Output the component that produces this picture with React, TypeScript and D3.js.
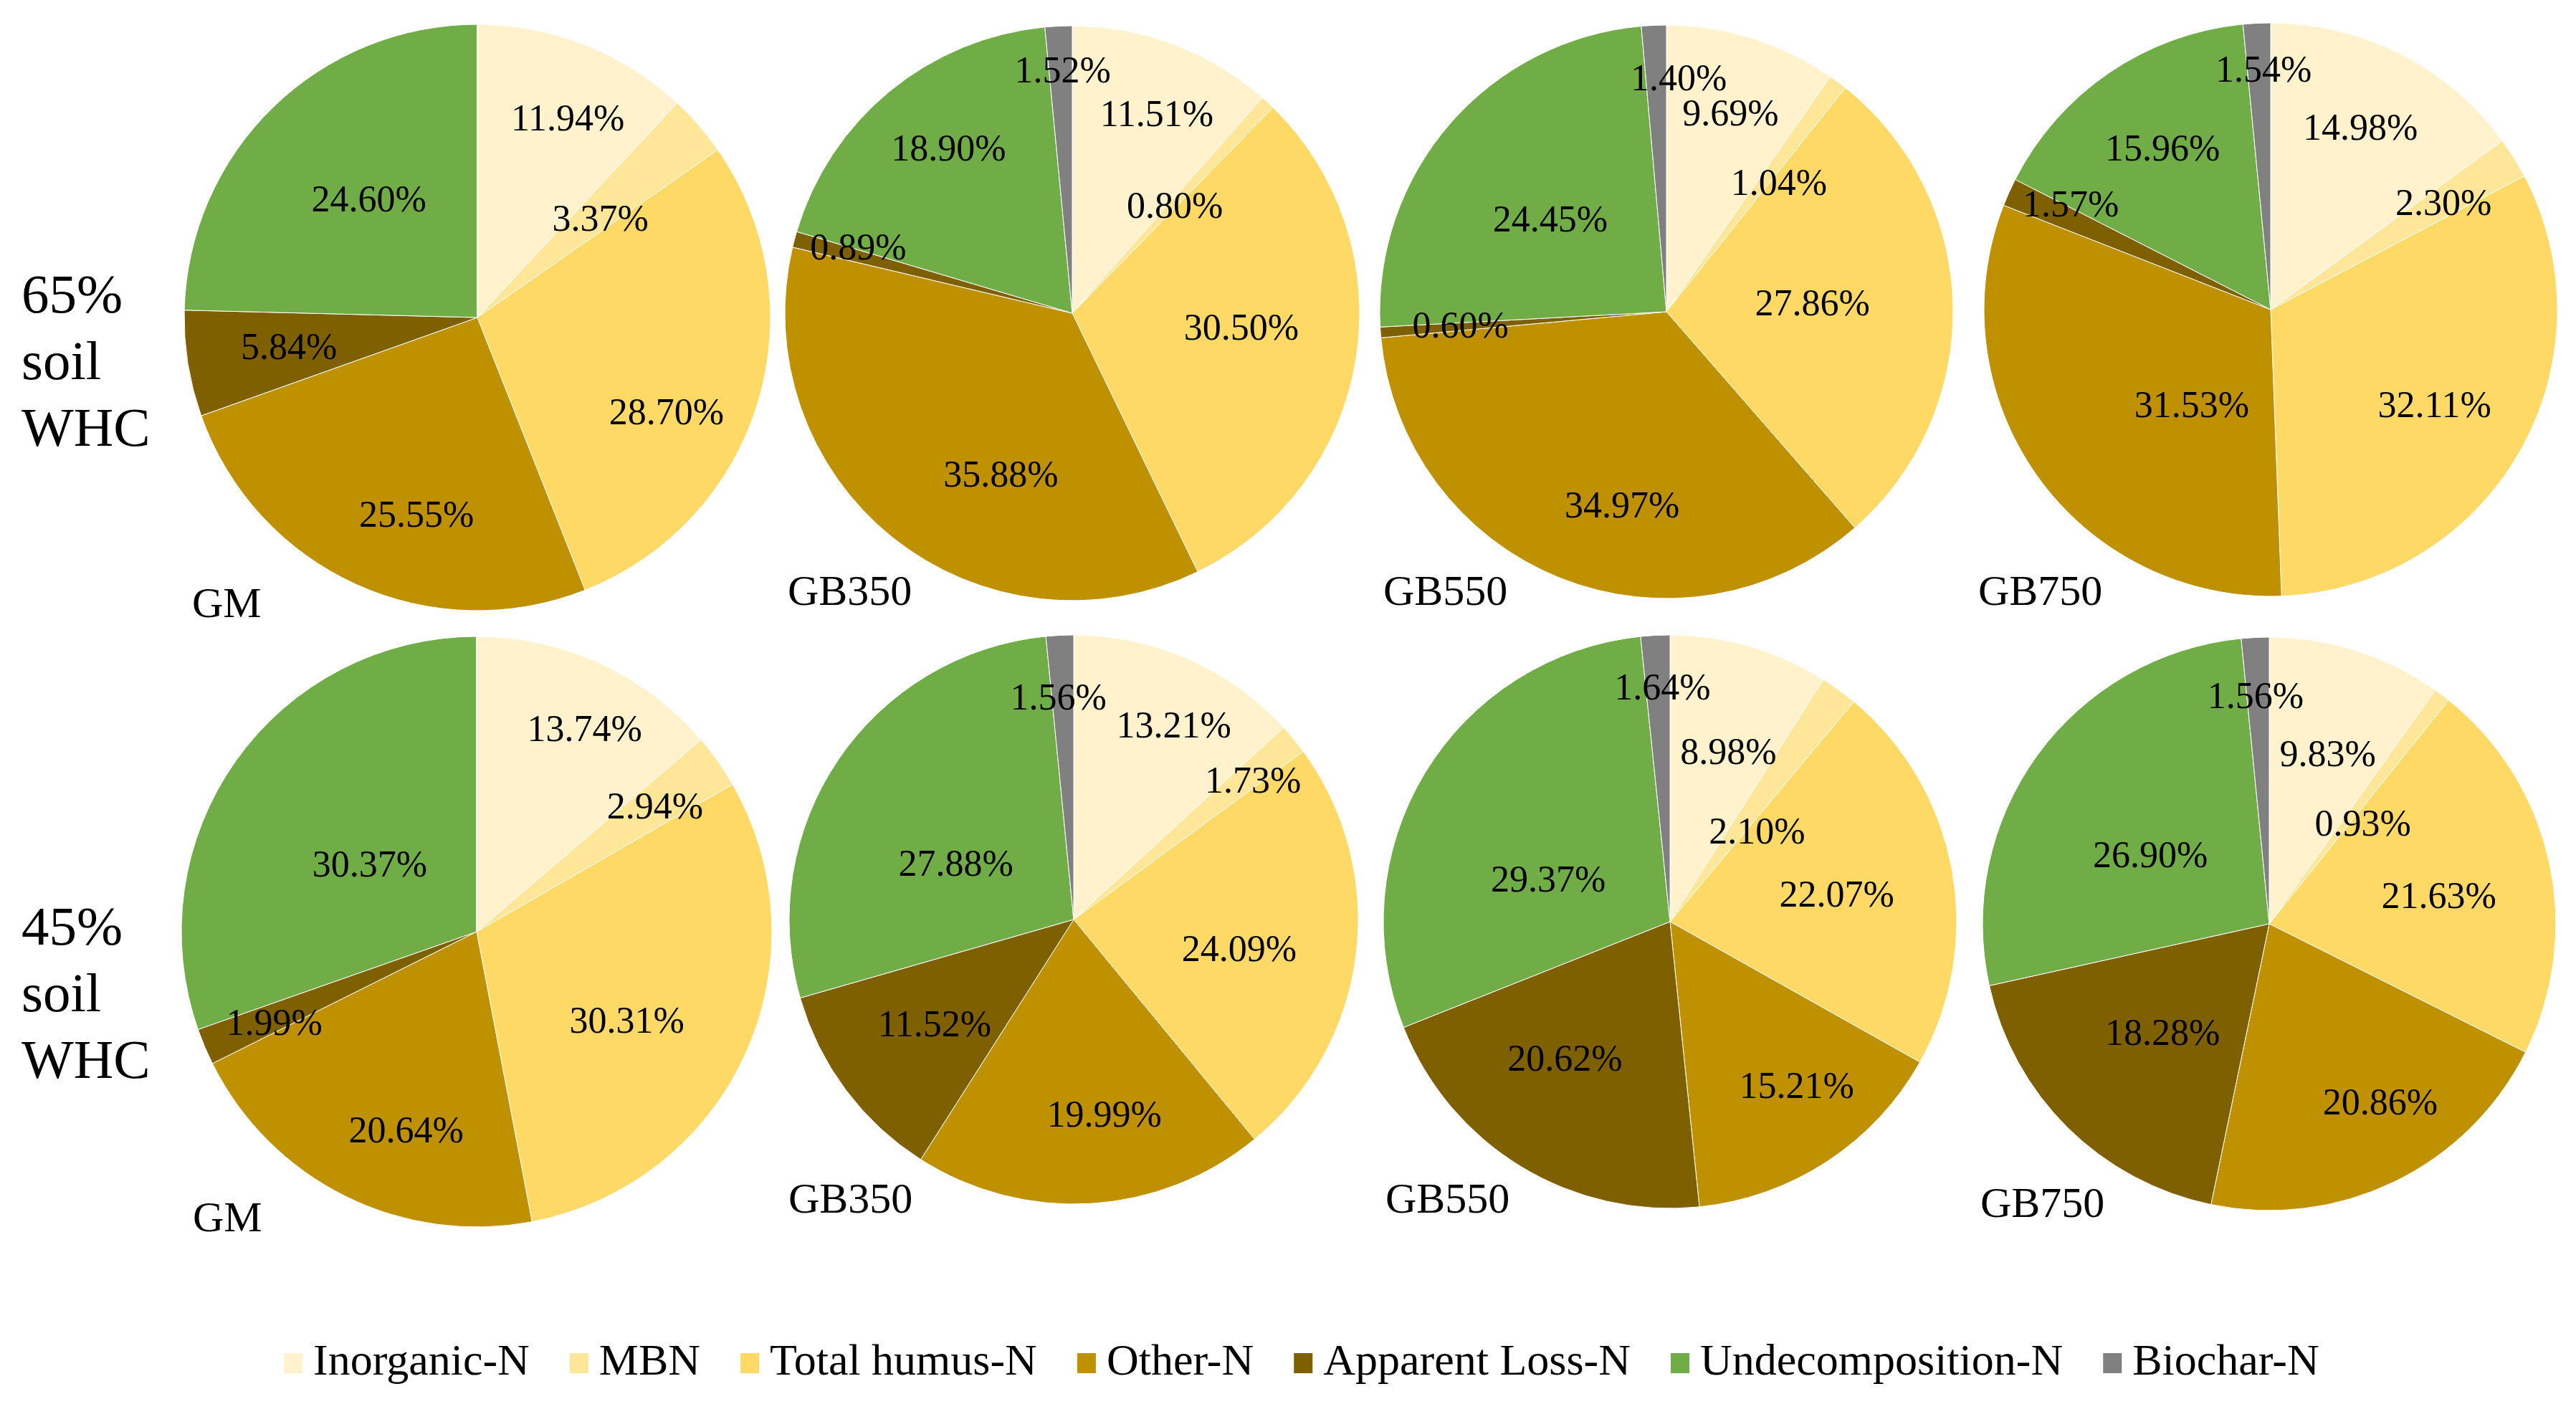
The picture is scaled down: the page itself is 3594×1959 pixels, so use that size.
import * as d3 from 'd3';

const categories = [
  'Inorganic-N',
  'MBN',
  'Total humus-N',
  'Other-N',
  'Apparent Loss-N',
  'Undecomposition-N',
  'Biochar-N',
];
const colors = ['#FFF2CC', '#FFE699', '#FFD966', '#BF9000', '#7F6000', '#70AD47', '#808080'];

const treatments = ['GM', 'GB350', 'GB550', 'GB750'];
const moistureLevels = ['65%', '45%'];

// 65% soil WHC (share of N, %)
const gm65 = [11.94, 3.37, 28.7, 25.55, 5.84, 24.6, 0];
const gb350_65 = [11.51, 0.8, 30.5, 35.88, 0.89, 18.9, 1.52];
const gb550_65 = [9.69, 1.04, 27.86, 34.97, 0.6, 24.45, 1.4];
const gb750_65 = [14.98, 2.3, 32.11, 31.53, 1.57, 15.96, 1.54];

// 45% soil WHC
const gm45 = [13.74, 2.94, 30.31, 20.64, 1.99, 30.37, 0];
const gb350_45 = [13.21, 1.73, 24.09, 19.99, 11.52, 27.88, 1.56];
const gb550_45 = [8.98, 2.1, 22.07, 15.21, 20.62, 29.37, 1.64];
const gb750_45 = [9.83, 0.93, 21.63, 20.86, 18.28, 26.9, 1.56];

const rows = [
  [gm65, gb350_65, gb550_65, gb750_65],
  [gm45, gb350_45, gb550_45, gb750_45],
];

// ---- layout (kept apart from the data) ----
const W = 3594;
const H = 1959;
const FONT = 'Liberation Serif';

// pie centre / radius per row & column
const pieLayout = [
  [
    { cx: 666, cy: 443, r: 409 },
    { cx: 1496, cy: 437, r: 401 },
    { cx: 2325, cy: 435, r: 400 },
    { cx: 3168, cy: 432, r: 400 },
  ],
  [
    { cx: 665, cy: 1300, r: 412 },
    { cx: 1498, cy: 1283, r: 397 },
    { cx: 2330, cy: 1286, r: 400 },
    { cx: 3166, cy: 1289, r: 400 },
  ],
];
const nameLayout = [
  [[268, 861], [1099, 844], [1930, 844], [2760, 844]],
  [[269, 1718], [1100, 1692], [1933, 1692], [2763, 1698]],
];
const rowLabelBase = [436, 1318];

// data label placement "best fit": [radius fraction, angle nudge in degrees]
const labelFit = [
  [
    [[0.75, 2.8], [0.54, 2], [0.72, 9.6], [0.7, -7.2], [0.65, 0.5], [0.55, 2], [0, 0]],
    [[0.755, 2.2], [0.52, 0.5], [0.59, -4.6], [0.61, -14.7], [0.78, 2.5], [0.72, 2.8], [0.85, 0.5]],
    [[0.73, 0.4], [0.6, 4.1], [0.51, -2.4], [0.69, -8.9], [0.72, 0.5], [0.52, -2.2], [0.82, 5.5]],
    [[0.71, -0.8], [0.71, 0], [0.66, 0], [0.43, -14.8], [0.79, 3.9], [0.68, 0.6], [0.84, 1.1]],
  ],
  [
    [[0.78, 3.2], [0.74, 0], [0.59, 5.8], [0.71, -6.7], [0.75, -1], [0.43, -2.7], [0, 0]],
    [[0.77, 3.4], [0.8, 1.3], [0.59, 2.5], [0.69, -5.5], [0.61, 0], [0.46, -8.4], [0.785, -1.1]],
    [[0.63, 2.7], [0.44, 7.5], [0.59, 0.9], [0.72, -4.6], [0.6, 6.4], [0.45, -11.8], [0.82, 1.1]],
    [[0.63, 1.2], [0.48, 5.8], [0.6, 2.6], [0.73, -6.2], [0.53, 0], [0.48, -5.7], [0.8, -0.6]],
  ],
];

const color = d3.scaleOrdinal<number, string>().domain(d3.range(categories.length)).range(colors);
const pie = d3
  .pie<number>()
  .sort(null)
  .value((d) => d);
const fmt = d3.format('.2f');

// legend item widths from the font metrics
const LEGEND_FS = 62;
function textWidth(t: string, size: number) {
  const ctx = document.createElement('canvas').getContext('2d');
  if (!ctx) return t.length * size * 0.45;
  ctx.font = `${size}px "${FONT}"`;
  return ctx.measureText(t).width;
}

function Pie({ values, ri, ci }: { values: number[]; ri: number; ci: number }) {
  const { cx, cy, r } = pieLayout[ri][ci];
  const arc = d3.arc<d3.PieArcDatum<number>>().innerRadius(0).outerRadius(r);
  const arcs = pie(values);
  const [nx, ny] = nameLayout[ri][ci];
  return (
    <g>
      <g transform={`translate(${cx},${cy})`}>
        {arcs.map((d) => (
          <path key={d.index} d={arc(d) || ''} fill={color(d.index)} stroke="#fff" strokeWidth={1} />
        ))}
        {arcs
          .filter((d) => d.value > 0)
          .map((d) => {
            const [rf, nudge] = labelFit[ri][ci][d.index];
            const a = (d.startAngle + d.endAngle) / 2 + (nudge * Math.PI) / 180;
            const lr = rf * r;
            return (
              <text
                key={d.index}
                x={Math.sin(a) * lr}
                y={-Math.cos(a) * lr}
                dy="0.35em"
                textAnchor="middle"
                fontFamily={FONT}
                fontSize={52}
                fill="#000"
              >
                {`${fmt(d.value)}%`}
              </text>
            );
          })}
      </g>
      <text x={nx} y={ny} fontFamily={FONT} fontSize={60} fill="#000">
        {treatments[ci]}
      </text>
    </g>
  );
}

export default function App() {
  document.body.style.margin = '0';

  let lx = 0;
  const legendItems = categories.map((c, i) => {
    const x = lx;
    lx += 41 + textWidth(c, LEGEND_FS) + 56;
    return { c, i, x };
  });

  return (
    <svg width={W} height={H} style={{ display: 'block' }}>
      <rect width={W} height={H} fill="#fff" />
      {rows.map((row, ri) => (
        <g key={ri}>
          {row.map((values, ci) => (
            <Pie key={ci} values={values} ri={ri} ci={ci} />
          ))}
          <text x={30} y={rowLabelBase[ri]} fontFamily={FONT} fontSize={77} fill="#000">
            {[moistureLevels[ri], 'soil', 'WHC'].map((t, i) => (
              <tspan key={i} x={30} dy={i === 0 ? 0 : 93}>
                {t}
              </tspan>
            ))}
          </text>
        </g>
      ))}
      <g transform="translate(396,1888)">
        {legendItems.map(({ c, i, x }) => (
          <g key={c}>
            <rect x={x} y={0} width={26} height={28} fill={colors[i]} />
            <text x={x + 41} y={30} fontFamily={FONT} fontSize={LEGEND_FS} fill="#000">
              {c}
            </text>
          </g>
        ))}
      </g>
    </svg>
  );
}
